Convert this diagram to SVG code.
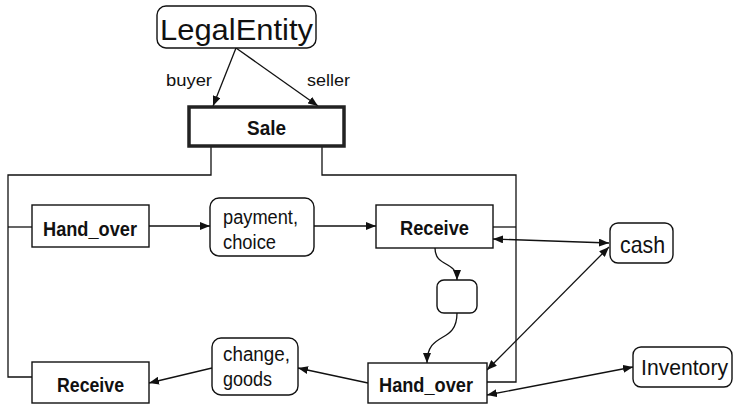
<svg xmlns="http://www.w3.org/2000/svg" width="735" height="407" viewBox="0 0 735 407">
  <defs>
    <marker id="arrow" viewBox="0 0 10 8" refX="10" refY="4" markerWidth="10" markerHeight="8" markerUnits="userSpaceOnUse" orient="auto-start-reverse">
      <path d="M0,0 L10,4 L0,8 Z" fill="#111"/>
    </marker>
    <style>
      .box { fill: #fff; stroke: #111; stroke-width: 1.4; }
      .sale { fill: #fff; stroke: #222; stroke-width: 3.5; }
      .wire { fill: none; stroke: #111; stroke-width: 1.3; }
      .arr { fill: none; stroke: #111; stroke-width: 1.3; marker-end: url(#arrow); }
      .arr2 { fill: none; stroke: #111; stroke-width: 1.3; marker-start: url(#arrow); marker-end: url(#arrow); }
      .bold { font-family: "Liberation Sans", Arial, sans-serif; font-weight: bold; font-size: 21px; fill: #111; }
      .reg { font-family: "Liberation Sans", Arial, sans-serif; font-size: 20px; fill: #111; }
      .role { font-family: "Liberation Sans", Arial, sans-serif; font-size: 17px; fill: #111; }
      .big { font-family: "Liberation Sans", Arial, sans-serif; font-size: 24px; fill: #111; }
      .inv { font-family: "Liberation Sans", Arial, sans-serif; font-size: 22px; fill: #111; }
      .huge { font-family: "Liberation Sans", Arial, sans-serif; font-size: 30px; fill: #111; }
    </style>
  </defs>

  <!-- connectors -->
  <g id="connectors">
    <!-- frame of the Sale process -->
    <path class="wire" d="M211,147 V175 H8 V377 H32"/>
    <path class="wire" d="M8,227 H32"/>
    <path class="wire" d="M322,147 V175 H516 V382 H487"/>
    <path class="wire" d="M493,227 H516"/>
    <!-- roles -->
    <path class="arr" d="M236,48 L213,106"/>
    <path class="arr" d="M236,48 L318,106"/>
    <!-- flow -->
    <path class="arr" d="M149,226 H210"/>
    <path class="arr" d="M314,226 H376"/>
    <path class="arr" d="M435,248 C435,268 457,260 457,280"/>
    <path class="arr" d="M457,313 C457,345 427,330 427,363"/>
    <path class="arr" d="M368,383 L298,368"/>
    <path class="arr" d="M212,368 L149,383"/>
    <!-- resources -->
    <path class="arr2" d="M493,239 L609,243"/>
    <path class="arr2" d="M609,247 L487,370"/>
    <path class="arr2" d="M487,395 L633,367"/>
    <text class="role" x="166" y="86" textLength="46" lengthAdjust="spacingAndGlyphs">buyer</text>
    <text class="role" x="307" y="86" textLength="43" lengthAdjust="spacingAndGlyphs">seller</text>
  </g>

  <g id="legal-entity">
    <rect class="box" x="157" y="6" width="159" height="42" rx="9"/>
    <text class="huge" x="160" y="40" textLength="153" lengthAdjust="spacingAndGlyphs">LegalEntity</text>
  </g>

  <g id="sale">
    <rect class="sale" x="189" y="107" width="155" height="39"/>
    <text class="bold" x="247" y="135" textLength="39" lengthAdjust="spacingAndGlyphs">Sale</text>
  </g>

  <g id="hand-over-1">
    <rect class="box" x="32" y="205" width="117" height="42"/>
    <text class="bold" x="43" y="236" textLength="94" lengthAdjust="spacingAndGlyphs">Hand_over</text>
  </g>

  <g id="payment-choice">
    <rect class="box" x="210" y="198" width="104" height="58" rx="9"/>
    <text class="reg" x="223" y="224" textLength="75" lengthAdjust="spacingAndGlyphs">payment,</text>
    <text class="reg" x="223" y="249" textLength="53" lengthAdjust="spacingAndGlyphs">choice</text>
  </g>

  <g id="receive-1">
    <rect class="box" x="376" y="205" width="117" height="43"/>
    <text class="bold" x="400" y="235" textLength="69" lengthAdjust="spacingAndGlyphs">Receive</text>
  </g>

  <g id="cash">
    <rect class="box" x="610" y="223" width="63" height="40" rx="8"/>
    <text class="big" x="620" y="253" textLength="45" lengthAdjust="spacingAndGlyphs">cash</text>
  </g>

  <g id="state">
    <rect class="box" x="437" y="280" width="40" height="33" rx="7"/>
  </g>

  <g id="hand-over-2">
    <rect class="box" x="368" y="363" width="119" height="40"/>
    <text class="bold" x="379" y="392" textLength="94" lengthAdjust="spacingAndGlyphs">Hand_over</text>
  </g>

  <g id="inventory">
    <rect class="box" x="633" y="347" width="99" height="40" rx="8"/>
    <text class="inv" x="641" y="375" textLength="87" lengthAdjust="spacingAndGlyphs">Inventory</text>
  </g>

  <g id="change-goods">
    <rect class="box" x="212" y="338" width="86" height="57" rx="9"/>
    <text class="reg" x="223" y="361" textLength="67" lengthAdjust="spacingAndGlyphs">change,</text>
    <text class="reg" x="223" y="386" textLength="49" lengthAdjust="spacingAndGlyphs">goods</text>
  </g>

  <g id="receive-2">
    <rect class="box" x="32" y="362" width="117" height="41"/>
    <text class="bold" x="57" y="392" textLength="67" lengthAdjust="spacingAndGlyphs">Receive</text>
  </g>
</svg>
